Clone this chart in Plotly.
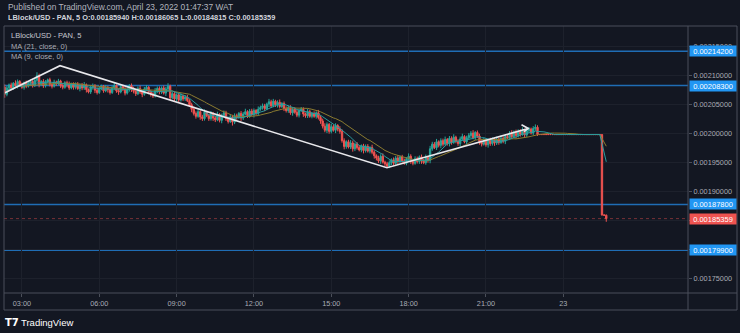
import pandas as pd
import plotly.graph_objects as go

# ---------------- data (prices in units of 1e-7) ----------------
bar_start = "2022-04-22 02:20"
first_open_e7 = 20800

close_e7 = [
    20680, 20790, 20840, 20790, 20870, 20830, 20900, 20840, 20800, 20880, 20820, 20870,
    20900, 20830, 20920, 21000, 20850, 20900, 20830, 20890, 20930, 20850, 20820, 20890,
    20860, 20910, 20830, 20800, 20880, 20850, 20790, 20860, 20800, 20850, 20780, 20840,
    20790, 20840, 20760, 20720, 20800, 20830, 20750, 20710, 20790, 20820, 20740, 20800,
    20760, 20710, 20790, 20830, 20740, 20720, 20810, 20770, 20700, 20760, 20830, 20770,
    20730, 20690, 20780, 20720, 20680, 20770, 20800, 20720, 20690, 20650, 20740, 20780,
    20720, 20790, 20700, 20770, 20820, 20620, 20690, 20600, 20670, 20580, 20650, 20600,
    20630, 20570, 20500, 20420, 20350, 20300, 20380, 20290, 20260, 20370, 20310, 20260,
    20350, 20270, 20240, 20330, 20230, 20310, 20360, 20260, 20210, 20290, 20200, 20310,
    20280, 20350, 20270, 20340, 20380, 20310, 20390, 20330, 20400, 20350, 20420, 20450,
    20480, 20430, 20510, 20550, 20480, 20560, 20500, 20540, 20470, 20520, 20430, 20400,
    20450, 20360, 20420, 20370, 20320, 20400, 20420, 20340, 20310, 20380, 20300, 20350,
    20300, 20360, 20280, 20220, 20130, 20060, 20160, 20040, 20120, 20060, 20140, 20080,
    20040, 19880, 19780, 19860, 19770, 19840, 19740, 19820, 19760, 19720, 19790, 19710,
    19780, 19700, 19760, 19680, 19620, 19580, 19530, 19610, 19510, 19480, 19440, 19500,
    19550, 19490, 19580, 19520, 19600, 19530, 19490, 19570, 19610, 19520, 19490, 19570,
    19520, 19600, 19530, 19500, 19590, 19540, 19740, 19820, 19760, 19860, 19800, 19880,
    19820, 19900, 19830, 19920, 19850, 19940, 19870, 19830, 19910, 19950, 19860, 19930,
    19970, 20010, 19930, 20020, 19960, 19860, 19820, 19880, 19810, 19890, 19830, 19900,
    19840, 19910, 19850, 19920, 19870, 19950, 19930, 20010, 19950, 20030, 19970, 20040,
    19990, 20060, 19980, 20050, 20080, 20010, 20090, 20110, 19985,
    19985, 19985, 19985, 19985, 19985, 19985, 19985, 19985, 19985, 19985,
    19985, 19985, 19985, 19985, 19985, 19985, 19985, 19985, 19985, 19985,
    19985, 19985, 19985, 19985, 19985, 19985, 19985, 19985, 19985,
    18600, 18594, 18535.9,
]

upper_wick_e7 = [
    50, 35, 25, 40, 20, 50, 35, 25, 40, 20, 35, 25,
    35, 25, 40, 60, 35, 25, 40, 35, 20, 35, 25, 40,
    25, 35, 20, 40, 25, 35, 50, 20, 25, 35, 40, 25,
    35, 50, 25, 20, 40, 35, 25, 50, 35, 25, 20, 40,
    25, 40, 35, 50, 20, 35, 40, 25, 35, 50, 25, 35,
    40, 25, 35, 50, 25, 35, 40, 20, 35, 25, 50, 35,
    35, 25, 40, 35, 50, 25, 35, 40, 25, 35, 50, 25,
    35, 40, 25, 35, 50, 35, 40, 25, 35, 50, 25, 35,
    40, 25, 35, 50, 25, 35, 40, 35, 25, 50, 35, 40,
    35, 25, 40, 35, 50, 25, 35, 40, 35, 25, 50, 35,
    40, 35, 25, 50, 35, 40, 25, 35, 50, 25, 35, 40,
    35, 40, 25, 35, 50, 25, 40, 35, 25, 50, 35, 25,
    35, 25, 50, 35, 40, 50, 35, 25, 50, 35, 40, 25,
    50, 35, 40, 25, 35, 50, 40, 25, 35, 40, 25, 35,
    35, 40, 25, 50, 35, 25, 40, 35, 50, 25, 35, 40,
    25, 40, 35, 50, 25, 35, 40, 25, 50, 35, 25, 40,
    35, 25, 40, 35, 50, 25, 50, 40, 35, 50, 25, 40,
    35, 50, 25, 40, 35, 50, 25, 35, 40, 50, 25, 35,
    40, 35, 50, 25, 35, 40, 25, 50, 35, 25, 40, 35,
    35, 40, 25, 50, 35, 25, 40, 35, 50, 25, 40, 35,
    35, 50, 25, 40, 35, 25, 40, 50, 35,
    0, 0, 0, 0, 0, 0, 0, 0, 0, 0,
    0, 0, 0, 0, 0, 0, 0, 0, 0, 0,
    0, 0, 0, 0, 0, 0, 0, 0, 0,
    0, 6, 12.5,
]

lower_wick_e7 = [
    60, 35, 25, 40, 35, 25, 50, 35, 25, 40, 35, 25,
    40, 35, 25, 35, 50, 25, 40, 35, 25, 35, 40, 25,
    35, 25, 40, 35, 25, 50, 35, 25, 40, 35, 25, 50,
    40, 35, 50, 25, 35, 40, 50, 35, 25, 40, 35, 25,
    50, 35, 25, 40, 35, 50, 25, 35, 40, 25, 35, 50,
    35, 40, 25, 35, 50, 25, 35, 40, 50, 35, 25, 40,
    40, 35, 25, 50, 35, 40, 25, 50, 35, 40, 25, 35,
    35, 25, 40, 50, 35, 40, 25, 50, 40, 35, 25, 40,
    35, 50, 40, 25, 35, 50, 25, 40, 35, 25, 60, 35,
    40, 25, 50, 35, 25, 40, 35, 25, 50, 35, 40, 25,
    35, 40, 25, 50, 35, 25, 40, 50, 35, 25, 40, 35,
    40, 35, 50, 25, 35, 40, 25, 50, 35, 40, 25, 35,
    25, 40, 35, 50, 40, 35, 50, 40, 35, 25, 50, 40,
    40, 35, 50, 40, 25, 35, 50, 40, 35, 25, 40, 50,
    35, 25, 40, 35, 50, 40, 35, 50, 25, 40, 30, 35,
    40, 35, 25, 50, 35, 40, 25, 35, 50, 40, 35, 25,
    35, 40, 50, 25, 35, 40, 50, 35, 25, 40, 35, 50,
    40, 25, 35, 50, 40, 25, 35, 40, 50, 35, 25, 40,
    35, 50, 25, 40, 35, 50, 40, 25, 35, 50, 40, 35,
    50, 35, 40, 25, 35, 50, 25, 40, 35, 25, 50, 35,
    40, 25, 50, 35, 40, 25, 35, 40, 25,
    0, 0, 0, 0, 0, 0, 0, 0, 0, 0,
    0, 0, 0, 0, 0, 0, 0, 0, 0, 0,
    0, 0, 0, 0, 0, 0, 0, 0, 0,
    14, 8, 54.4,
]

levels = [0.002142, 0.002083, 0.001878, 0.001799]
level_labels = ["0.00214200", "0.00208300", "0.00187800", "0.00179900"]
last_price = 0.00185359
last_label = "0.00185359"

price_ticks = [0.00175, 0.00180, 0.00185, 0.00190, 0.00195, 0.00200, 0.00205, 0.00210, 0.00215]
price_ticktext = ["0.00175000", "0.00180000", "", "0.00190000", "0.00195000",
                  "0.00200000", "0.00205000", "0.00210000", "0.00215000"]
time_tickvals = ["2022-04-22 03:00", "2022-04-22 06:00", "2022-04-22 09:00", "2022-04-22 12:00",
                 "2022-04-22 15:00", "2022-04-22 18:00", "2022-04-22 21:00", "2022-04-23 00:00"]
time_ticktext = ["03:00", "06:00", "09:00", "12:00", "15:00", "18:00", "21:00", "23"]

# trend line drawing (time, price)
trend_t = ["2022-04-22 02:20:38", "2022-04-22 04:28:37", "2022-04-22 17:09:40", "2022-04-22 22:38:31"]
trend_p = [0.0020707, 0.0021172, 0.0019414, 0.0020090]
arrow_t = ["2022-04-22 22:22:44", "2022-04-22 22:38:31", "2022-04-22 22:28:34"]
arrow_p = [0.0020155, 0.0020090, 0.0020034]

x_range = ["2022-04-22 02:18:18", "2022-04-23 04:50:13"]
y_range = [0.0017253, 0.0021857]

# ---------------- build ----------------
n = len(close_e7)
assert len(upper_wick_e7) == n and len(lower_wick_e7) == n
times = pd.date_range(bar_start, periods=n, freq="5min")
opens_e7 = [first_open_e7] + close_e7[:-1]
highs_e7 = [max(o, c) + u for o, c, u in zip(opens_e7, close_e7, upper_wick_e7)]
lows_e7 = [min(o, c) - d for o, c, d in zip(opens_e7, close_e7, lower_wick_e7)]
S = 1e-7
o = [v * S for v in opens_e7]
h = [v * S for v in highs_e7]
l = [v * S for v in lows_e7]
c = [v * S for v in close_e7]
ma21 = pd.Series(c).rolling(21, min_periods=1).mean()
ma9 = pd.Series(c).rolling(9, min_periods=1).mean()

BG = "#131722"
BORDER = "#4b4f5a"
GRID = "#1d212c"
TXT = "#a9acb5"
UP = "#26a69a"
DOWN = "#ef5350"
FONT = "Liberation Sans"

PL, PR, PT, PB = 4, 688, 26, 293
def px(x):
    return (x - PL) / (PR - PL)
def py(y):
    return (PB - y) / (PB - PT)

fig = go.Figure()
fig.add_trace(go.Candlestick(
    x=times, open=o, high=h, low=l, close=c,
    increasing=dict(line=dict(color=UP, width=1), fillcolor=UP),
    decreasing=dict(line=dict(color=DOWN, width=1), fillcolor=DOWN),
    whiskerwidth=0, hoverinfo="skip", showlegend=False))
fig.add_trace(go.Scatter(x=times, y=ma21, mode="lines",
                         line=dict(color="#8b7b30", width=1), hoverinfo="skip", showlegend=False))
fig.add_trace(go.Scatter(x=times, y=ma9, mode="lines",
                         line=dict(color="#2a9da0", width=1), hoverinfo="skip", showlegend=False))
fig.add_trace(go.Scatter(x=trend_t, y=trend_p, mode="lines",
                         line=dict(color="#e8e8ec", width=1.6), hoverinfo="skip", showlegend=False))
fig.add_trace(go.Scatter(x=arrow_t, y=arrow_p, mode="lines",
                         line=dict(color="#e8e8ec", width=1.6), hoverinfo="skip", showlegend=False))

shapes = []
for lv in levels:
    shapes.append(dict(type="line", xref="paper", yref="y", x0=0, x1=1, y0=lv, y1=lv,
                       line=dict(color="#1f6db5", width=1.5), layer="below"))
shapes.append(dict(type="line", xref="paper", yref="y", x0=0, x1=1, y0=last_price, y1=last_price,
                   line=dict(color="rgba(239,83,80,0.45)", width=1, dash="dot")))
# pane borders
shapes.append(dict(type="rect", xref="paper", yref="paper", x0=px(4), x1=px(737), y0=py(310), y1=py(26),
                   line=dict(color=BORDER, width=1)))
shapes.append(dict(type="line", xref="paper", yref="paper", x0=px(688), x1=px(688), y0=py(310), y1=py(26),
                   line=dict(color=BORDER, width=1)))
shapes.append(dict(type="line", xref="paper", yref="paper", x0=px(4), x1=px(737), y0=py(293), y1=py(293),
                   line=dict(color=BORDER, width=1)))

ann = []
for lv, lab in zip(levels, level_labels):
    ann.append(dict(xref="paper", yref="y", x=px(688.5), y=lv, xanchor="left", yanchor="middle",
                    text=lab, showarrow=False, bgcolor="#2196f3", width=46, height=10, borderpad=0,
                    font=dict(family=FONT, size=7.5, color="#ffffff")))
ann.append(dict(xref="paper", yref="y", x=px(688.5), y=last_price, xanchor="left", yanchor="middle",
                text=last_label, showarrow=False, bgcolor="#ef5350", width=46, height=10, borderpad=0,
                font=dict(family=FONT, size=7.5, color="#ffffff")))

ann.append(dict(xref="paper", yref="paper", x=px(6), y=py(7), xanchor="left", yanchor="middle",
                text="Published on TradingView.com, April 23, 2022 01:47:37 WAT", showarrow=False,
                font=dict(family=FONT, size=8.4, color="#b2b5be")))
ann.append(dict(xref="paper", yref="paper", x=px(6), y=py(17.5), xanchor="left", yanchor="middle",
                text="<b>LBlock/USD - PAN, 5 O:0.00185940 H:0.00186065 L:0.00184815 C:0.00185359</b>",
                showarrow=False, font=dict(family=FONT, size=7.4, color="#d1d4dc")))
for yy, txt, col in [(36, "LBlock/USD - PAN, 5", "#c3c6ce"), (47, "MA (21, close, 0)", "#a9acb5"),
                     (57, "MA (9, close, 0)", "#a9acb5")]:
    ann.append(dict(xref="paper", yref="paper", x=px(9), y=py(yy), xanchor="left", yanchor="middle",
                    text=txt, showarrow=False, font=dict(family=FONT, size=7.5, color=col)))
ann.append(dict(xref="paper", yref="paper", x=px(3), y=py(322), xanchor="left", yanchor="middle",
                text="<b>T7</b>", showarrow=False, font=dict(family="DejaVu Sans", size=10, color="#ffffff")))
ann.append(dict(xref="paper", yref="paper", x=px(19), y=py(322), xanchor="left", yanchor="middle",
                text="TradingView", showarrow=False, font=dict(family=FONT, size=9.5, color="#ffffff")))

fig.update_layout(
    width=740, height=333,
    margin=dict(l=PL, r=740 - PR, t=PT, b=333 - PB, pad=0),
    paper_bgcolor=BG, plot_bgcolor=BG,
    shapes=shapes, annotations=ann, showlegend=False,
    xaxis=dict(type="date", range=x_range, rangeslider=dict(visible=False),
               tickvals=time_tickvals, ticktext=time_ticktext,
               showgrid=True, gridcolor=GRID, gridwidth=1, zeroline=False, showline=False,
               ticks="outside", ticklen=3, tickcolor=BORDER,
               tickfont=dict(family=FONT, size=7.3, color=TXT)),
    yaxis=dict(side="right", range=y_range, tickvals=price_ticks, ticktext=price_ticktext,
               showgrid=True, gridcolor=GRID, gridwidth=1, zeroline=False, showline=False,
               ticks="outside", ticklen=3, tickcolor=BORDER,
               tickfont=dict(family=FONT, size=7.3, color=TXT)),
    boxgap=0.1,
)
fig.write_html("out.html")
